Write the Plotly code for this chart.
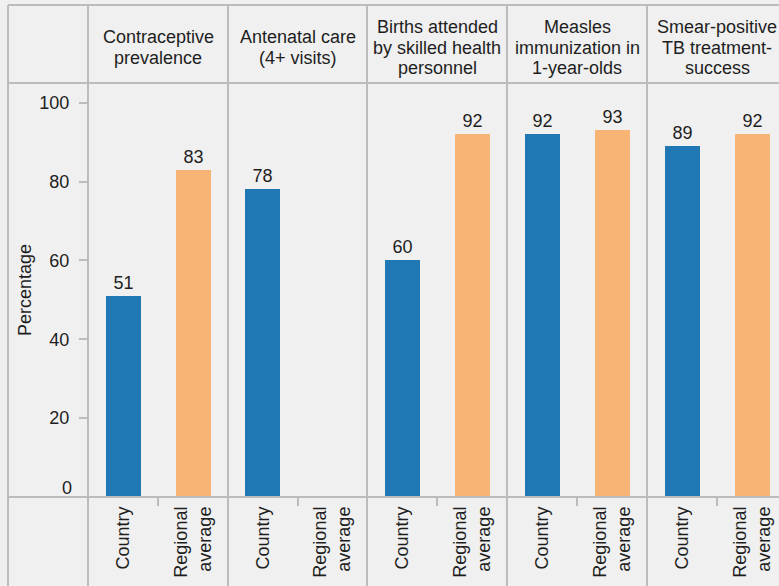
import plotly.graph_objects as go
from plotly.subplots import make_subplots

# ---- data ----
indicators = [
    "Contraceptive<br>prevalence",
    "Antenatal care<br>(4+ visits)",
    "Births attended<br>by skilled health<br>personnel",
    "Measles<br>immunization in<br>1-year-olds",
    "Smear-positive<br>TB treatment-<br>success",
]
groups = ["Country", "Regional<br>average"]
country = [51, 78, 60, 92, 89]
regional = [83, None, 92, 93, 92]
y_ticks = [20, 40, 60, 80, 100]
y_title = "Percentage"

# ---- style ----
W, H = 779, 586
L, R, T, B = 88, 0, 83, 89
BLUE = "#1f77b4"
ORANGE = "#f8b475"
LINE = "#bcbcbc"
BG = "#f0f0f0"
TXT = "#1e1e1e"
FONT = "Liberation Sans, Arial, sans-serif"
FS = 18

px_bounds = [0, 140, 279, 419, 559, 691]  # panel boundaries in px from plot left
pw = W - L - R
ph = H - T - B
widths = [px_bounds[i + 1] - px_bounds[i] for i in range(5)]

fig = make_subplots(rows=1, cols=5, shared_yaxes=True, horizontal_spacing=0,
                    column_widths=widths)

for i in range(5):
    vals = [country[i], regional[i]]
    fig.add_trace(go.Bar(
        x=groups, y=vals, width=0.5,
        marker=dict(color=[BLUE, ORANGE], line=dict(width=0)),
        text=["" if v is None else str(v) for v in vals],
        textposition="outside", cliponaxis=False,
        textfont=dict(family=FONT, size=FS, color=TXT),
        showlegend=False, hoverinfo="skip",
    ), row=1, col=i + 1)
    slot = 70.0
    rng_hi = -0.5 + widths[i] / slot if i == 4 else 1.5
    fig.update_xaxes(
        type="category", categoryorder="array", categoryarray=groups,
        range=[-0.5, rng_hi], tickson="boundaries", ticks="outside",
        ticklen=8, tickwidth=2, tickcolor=LINE, tickangle=-90,
        ticklabelstandoff=5,
        showgrid=False, showline=False, zeroline=False,
        tickfont=dict(family=FONT, size=FS, color=TXT),
        row=1, col=i + 1)

fig.update_yaxes(range=[0, 105], showgrid=False, showline=False, zeroline=False)
fig.update_yaxes(tickvals=y_ticks, ticks="outside", ticklen=8,
                 tickwidth=2, tickcolor=LINE, ticklabelstandoff=6,
                 tickfont=dict(family=FONT, size=FS, color=TXT), row=1, col=1)
for c in range(2, 6):
    fig.update_yaxes(ticks="", showticklabels=False, row=1, col=c)

# ---- grid / border shapes (paper coords) ----
def xp(p):
    return (p - L) / pw

def yp(p):
    return (H - B - p) / ph

shapes = []
ln = dict(color=LINE, width=2)
top, bottom = 5, H + 2
left = 8
for bx in [left] + [L + b for b in px_bounds[:-1]]:
    shapes.append(dict(type="line", xref="paper", yref="paper",
                       x0=xp(bx), x1=xp(bx), y0=yp(top), y1=yp(bottom), line=ln))
for hy in [top, T, H - B]:
    shapes.append(dict(type="line", xref="paper", yref="paper",
                       x0=xp(left), x1=xp(W + 5), y0=yp(hy), y1=yp(hy), line=ln))

annotations = []
LS = 20.5
for i, name in enumerate(indicators):
    cx = L + px_bounds[i] + 70 if i == 4 else L + (px_bounds[i] + px_bounds[i + 1]) / 2
    lines = name.split("<br>")
    n = len(lines)
    for k, t in enumerate(lines):
        cy = 47.5 + (k - (n - 1) / 2) * LS
        annotations.append(dict(text=t, xref="paper", yref="paper", x=xp(cx), y=yp(cy),
                                xanchor="center", yanchor="middle", showarrow=False,
                                font=dict(family=FONT, size=FS, color=TXT)))
annotations.append(dict(text=y_title, xref="paper", yref="paper", x=xp(25), y=0.5,
                        textangle=-90, xanchor="center", yanchor="middle", showarrow=False,
                        font=dict(family=FONT, size=FS, color=TXT)))
annotations.append(dict(text="0", xref="paper", yref="y", x=xp(74), y=0,
                        xanchor="right", yanchor="middle", yshift=9, showarrow=False,
                        font=dict(family=FONT, size=FS, color=TXT)))

fig.update_layout(
    width=W, height=H, margin=dict(l=L, r=R, t=T, b=B, pad=0),
    paper_bgcolor=BG, plot_bgcolor=BG, bargap=0,
    shapes=shapes, annotations=annotations,
    font=dict(family=FONT, size=FS, color=TXT),
)

fig.write_html("out.html", config={"displayModeBar": False},
               post_script="document.body.style.margin='0px';document.body.style.background='#f0f0f0';")
